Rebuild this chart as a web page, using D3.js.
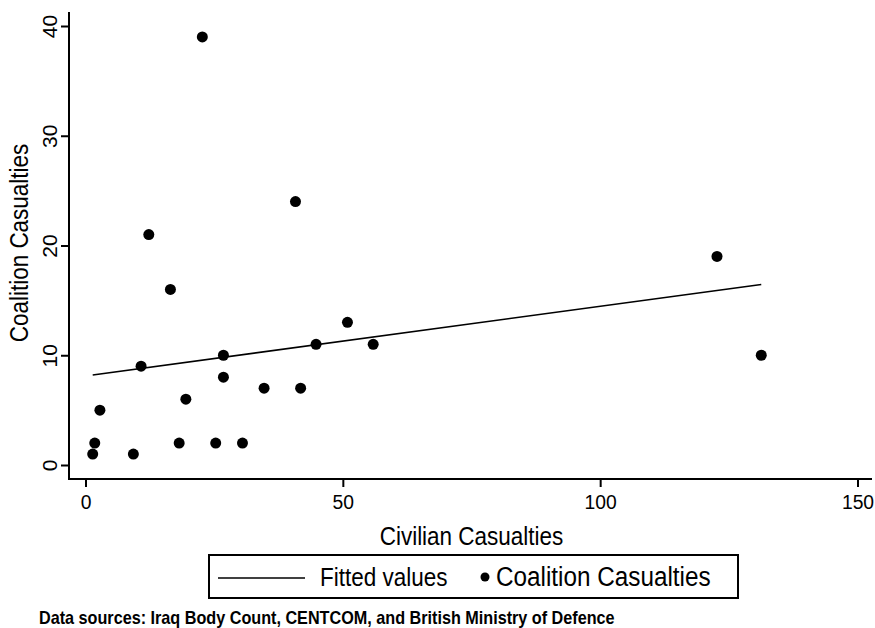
<!DOCTYPE html>
<html>
<head>
<meta charset="utf-8">
<script src="https://cdn.jsdelivr.net/npm/d3@7"></script>
<style>
  body { margin: 0; background: #fff; }
  text { font-family: 'Liberation Sans', Arial, sans-serif; fill: #000; }
</style>
</head>
<body>
<svg id="chart"></svg>
<script>
// monthly casualties
const civilian = [1.4, 1.8, 2.8, 9.3, 10.8, 12.3, 16.5, 18.2, 19.5, 22.7, 25.3,
      26.8, 26.8, 30.5, 34.7, 40.8, 41.8, 44.8, 50.9, 55.9, 122.7, 131.3];
const coalition = [1, 2, 5, 1, 9, 21, 16, 2, 6, 39, 2,
      10, 8, 2, 7, 24, 7, 11, 13, 11, 19, 10];
const x_ticks = [0, 50, 100, 150];
const y_ticks = [0, 10, 20, 30, 40];
const legend_labels = ["Fitted values", "Coalition Casualties"];

const WIDTH = 875;
const HEIGHT = 628;

const svg = d3.select("#chart")
      .attr("width", WIDTH)
      .attr("height", HEIGHT);

// text squeezed a bit horizontally, like the narrow stata font
function addText(parent, str, x, y, size, opts = {}) {
      const rot = opts.rotate || 0;
      const sx = opts.sx || 0.9;
      return parent.append("text")
            .attr("transform", `translate(${x},${y}) rotate(${rot}) scale(${sx},1)`)
            .attr("text-anchor", opts.anchor || "start")
            .style("font-size", size + "px")
            .style("font-weight", opts.bold ? "bold" : null)
            .text(str);
}

const points = civilian.map((c, i) => ({ x: c, y: coalition[i] }));

// linear fit (ols)
const mx = d3.mean(civilian);
const my = d3.mean(coalition);
let sxy = 0, sxx = 0;
points.forEach(p => {
      sxy += (p.x - mx) * (p.y - my);
      sxx += (p.x - mx) * (p.x - mx);
});
const slope = sxy / sxx;
const intercept = my - slope * mx;
const fit = d3.extent(civilian).map(x => ({ x, y: intercept + slope * x }));

const xScale = d3.scaleLinear().domain([0, 150]).range([85.5, 857.5]);
const yScale = d3.scaleLinear().domain([0, 40]).range([465, 26]);

// axes lines (stata style, offset from data)
const axis_x0 = 69, axis_y0 = 479;
svg.append("line")
      .attr("x1", axis_x0).attr("x2", axis_x0)
      .attr("y1", 12).attr("y2", axis_y0 + 1)
      .attr("stroke", "#000").attr("stroke-width", 2);
svg.append("line")
      .attr("x1", axis_x0 - 1).attr("x2", 872)
      .attr("y1", axis_y0).attr("y2", axis_y0)
      .attr("stroke", "#000").attr("stroke-width", 2);

const axisBottom = d3.axisBottom(xScale)
      .tickValues(x_ticks)
      .tickSize(8);
const gx = svg.append("g")
      .attr("transform", `translate(0, ${axis_y0})`)
      .call(axisBottom);
gx.select(".domain").remove();
gx.selectAll("line").attr("stroke-width", 2);
gx.selectAll(".tick text").remove();
gx.selectAll(".tick").each(function (d) {
      addText(d3.select(this), d, 0, 30, 21, { anchor: "middle", sx: 0.92 });
});

const axisLeft = d3.axisLeft(yScale)
      .tickValues(y_ticks)
      .tickSize(8);
const gy = svg.append("g")
      .attr("transform", `translate(${axis_x0}, 0)`)
      .call(axisLeft);
gy.select(".domain").remove();
gy.selectAll("line").attr("stroke-width", 2);
gy.selectAll(".tick text").remove();
gy.selectAll(".tick").each(function (d) {
      addText(d3.select(this), d, -12, 0, 21, { anchor: "middle", rotate: -90, sx: 1 });
});

// axis titles
addText(svg, "Civilian Casualties", xScale(75), 545, 25, { anchor: "middle" });
addText(svg, "Coalition Casualties", 28, 243, 25, { anchor: "middle", rotate: -90 });

// fitted line
const line = d3.line().x(d => xScale(d.x)).y(d => yScale(d.y));
svg.append("path")
      .datum(fit)
      .attr("d", line)
      .attr("fill", "none")
      .attr("stroke", "#000")
      .attr("stroke-width", 1.6);

// scatter
svg.selectAll(".dot")
      .data(points)
      .enter()
      .append("circle")
      .attr("class", "dot")
      .attr("cx", d => xScale(d.x))
      .attr("cy", d => yScale(d.y))
      .attr("r", 5.5)
      .attr("fill", "#000");

// legend
const legend = svg.append("g");
legend.append("rect")
      .attr("x", 209).attr("y", 555)
      .attr("width", 529).attr("height", 43)
      .attr("fill", "none")
      .attr("stroke", "#000")
      .attr("stroke-width", 2);
legend.append("line")
      .attr("x1", 218).attr("x2", 305)
      .attr("y1", 578).attr("y2", 578)
      .attr("stroke", "#000").attr("stroke-width", 1.6);
addText(legend, legend_labels[0], 320, 586, 25);
legend.append("circle")
      .attr("cx", 485).attr("cy", 577)
      .attr("r", 4.5)
      .attr("fill", "#000");
addText(legend, legend_labels[1], 496, 586, 27);

// note
addText(svg, "Data sources: Iraq Body Count, CENTCOM, and British Ministry of Defence",
      39, 624, 18, { bold: true, sx: 0.9 });
</script>
</body>
</html>
